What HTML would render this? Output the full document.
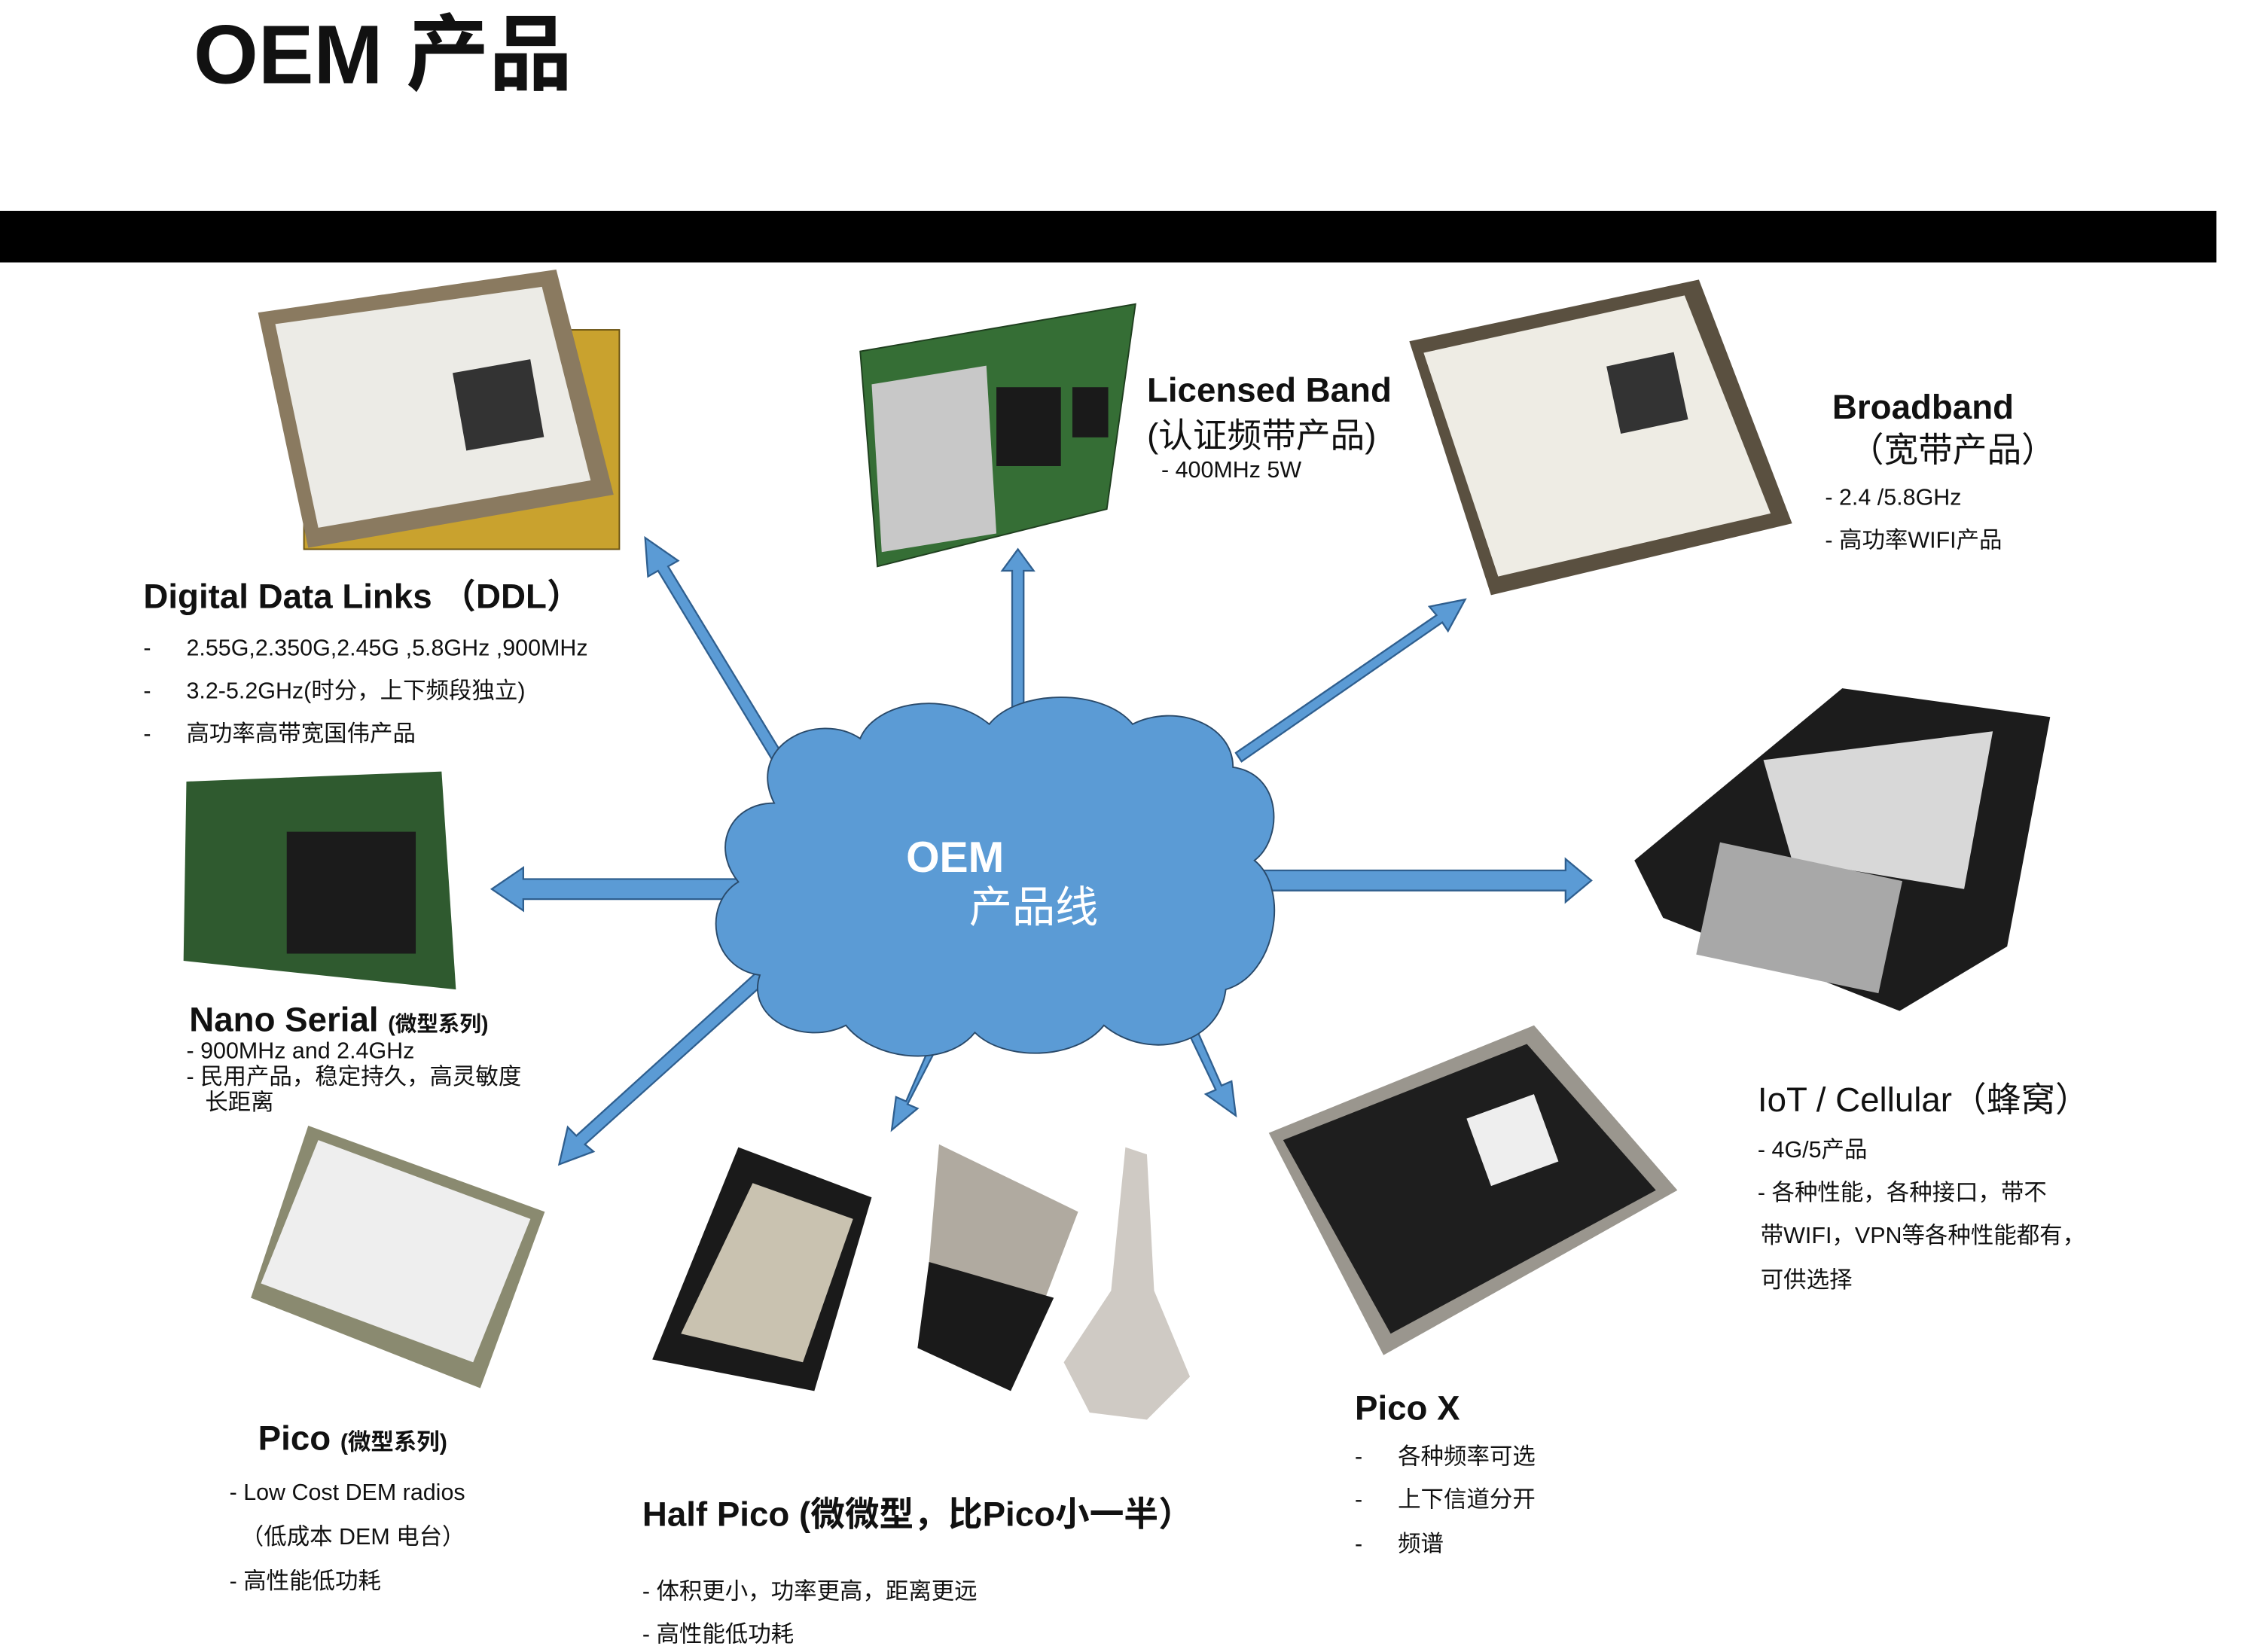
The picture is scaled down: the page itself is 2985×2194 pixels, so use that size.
<!DOCTYPE html>
<html><head><meta charset="utf-8">
<style>
html,body{margin:0;padding:0;background:#fff;}
svg{display:block;}
text{font-family:"Liberation Sans","Noto Sans CJK SC",sans-serif;fill:#111;}
.h{font-weight:bold;font-size:24px;}
.b{font-size:16px;}
</style></head><body>
<svg width="2985" height="2194" viewBox="0 0 1568 1152" preserveAspectRatio="none" xmlns="http://www.w3.org/2000/svg">
<rect width="1568" height="1152" fill="#fff"/>
<text x="135" y="58" style="font-weight:bold;font-size:58px">OEM 产品</text>
<rect x="0" y="147" width="1546" height="36" fill="#000"/>

<g fill="#5b9bd5" stroke="#2f5f8f" stroke-width="1.2">
<polygon points="556,543 466,395 473,391 450,375 452,402 459,398 549,547"/>
<polygon points="706,520 706,398 699,398 710,383 721,398 714,398 714,520"/>
<polygon points="862,525 1002,429 997,423 1022,418 1010,440 1006,434 866,531"/>
<polygon points="535,613 365,613 365,605 343,620 365,635 365,627 535,627"/>
<polygon points="868,607 1092,607 1092,599 1110,614 1092,629 1092,621 868,621"/>
<polygon points="530,676 402,792 396,786 390,812 414,803 408,798 536,683"/>
<polygon points="670,680 632,768 625,765 622,788 640,773 633,770 678,683"/>
<polygon points="803,666 848,760 841,763 862,778 859,754 852,757 810,662"/>
</g>

<g fill="#5b9bd5" stroke="#2a4a6a" stroke-width="1">
<path d="M540,560 C520,520 570,495 600,515 C610,490 660,480 690,505 C710,480 770,480 790,505 C820,490 860,505 860,535 C895,540 895,585 875,600 C900,620 890,680 855,690 C850,730 800,740 770,715 C750,740 700,740 680,720 C660,745 610,740 590,715 C560,730 520,710 530,680 C495,675 490,630 515,615 C495,590 510,560 540,560 Z"/>
</g>
<text x="632" y="608" style="font-weight:bold;font-size:30px;fill:#fff">OEM</text>
<text x="676" y="643" style="font-size:30px;fill:#fff">产品线</text>

<rect x="212" y="230" width="220" height="153" fill="#c9a22e" stroke="#6a5210"/>
<polygon points="180,218 388,188 428,345 215,382" fill="#8a7a60"/>
<polygon points="192,226 378,200 412,335 222,368" fill="#ecebe6"/>
<rect x="320" y="255" width="55" height="55" fill="#333" transform="rotate(-10 347 282)"/>
<polygon points="600,245 792,212 772,355 612,395" fill="#356e35" stroke="#1f3f1f"/>
<polygon points="608,268 688,255 695,372 615,385" fill="#c8c8c8"/>
<rect x="695" y="270" width="45" height="55" fill="#1a1a1a"/>
<rect x="748" y="270" width="25" height="35" fill="#1a1a1a"/>
<polygon points="983,238 1185,195 1250,365 1040,415" fill="#5a5040"/>
<polygon points="993,246 1175,206 1235,358 1045,402" fill="#eeece4"/>
<rect x="1125" y="250" width="48" height="48" fill="#333" transform="rotate(-12 1149 274)"/>
<polygon points="1140,600 1285,480 1430,500 1400,660 1325,705 1160,640" fill="#1c1c1c"/>
<polygon points="1230,530 1390,510 1370,620 1250,600" fill="#d8d8d8"/>
<rect x="1190" y="600" width="130" height="80" fill="#a8a8a8" transform="rotate(12 1255 640)"/>
<polygon points="130,545 308,538 318,690 128,670" fill="#2f5a2f"/>
<rect x="200" y="580" width="90" height="85" fill="#1b1b1b"/>
<polygon points="215,785 380,845 335,968 175,905" fill="#8a8a70"/>
<polygon points="222,795 370,850 330,950 182,895" fill="#eeeeee"/>
<polygon points="515,800 608,835 568,970 455,948" fill="#1a1a1a"/>
<polygon points="525,825 595,850 560,950 475,930" fill="#c9c2b0"/>
<polygon points="655,798 752,845 728,908 648,880" fill="#b0aaa0"/>
<polygon points="648,880 735,905 705,970 640,940" fill="#1a1a1a"/>
<polygon points="785,800 800,805 805,900 830,960 800,990 760,985 742,950 775,900" fill="#cfcac4"/>
<polygon points="885,790 1070,715 1170,830 965,945" fill="#9a968e"/>
<polygon points="895,795 1065,728 1155,830 970,930" fill="#1e1e1e"/>
<rect x="1030" y="770" width="50" height="50" fill="#eee" transform="rotate(-20 1055 795)"/>

<text x="800" y="280" class="h">Licensed Band</text>
<text x="800" y="312" class="h" style="font-weight:normal">(认证频带产品)</text>
<text x="810" y="333" class="b">- 400MHz 5W</text>

<text x="1278" y="292" class="h">Broadband</text>
<text x="1290" y="322" class="h" style="font-weight:normal">（宽带产品）</text>
<text x="1273" y="352" class="b">- 2.4 /5.8GHz</text>
<text x="1273" y="382" class="b">- 高功率WIFI产品</text>

<text x="100" y="424" class="h">Digital  Data Links  （DDL）</text>
<text x="100" y="457" class="b">-</text><text x="130" y="457" class="b">2.55G,2.350G,2.45G ,5.8GHz ,900MHz</text>
<text x="100" y="487" class="b">-</text><text x="130" y="487" class="b">3.2-5.2GHz(时分，上下频段独立)</text>
<text x="100" y="517" class="b">-</text><text x="130" y="517" class="b">高功率高带宽国伟产品</text>

<text x="132" y="719" class="h">Nano Serial <tspan style="font-size:15px">(微型系列)</tspan></text>
<text x="130" y="738" class="b">- 900MHz and 2.4GHz</text>
<text x="130" y="756" class="b">- 民用产品，稳定持久，高灵敏度</text>
<text x="143" y="774" class="b">长距离</text>

<text x="1226" y="775" class="h" style="font-weight:normal">IoT / Cellular（蜂窝）</text>
<text x="1226" y="807" class="b">- 4G/5产品</text>
<text x="1226" y="837" class="b">- 各种性能，各种接口，带不</text>
<text x="1228" y="867" class="b">带WIFI，VPN等各种性能都有，</text>
<text x="1228" y="898" class="b">可供选择</text>

<text x="180" y="1011" class="h">Pico <tspan style="font-size:16px">(微型系列)</tspan></text>
<text x="160" y="1046" class="b">- Low Cost DEM radios</text>
<text x="168" y="1077" class="b">（低成本 DEM 电台）</text>
<text x="160" y="1108" class="b">- 高性能低功耗</text>

<text x="448" y="1064" class="h" style="font-weight:bold">Half Pico (微微型，比Pico小一半）</text>
<text x="448" y="1115" class="b">- 体积更小，功率更高，距离更远</text>
<text x="448" y="1145" class="b">- 高性能低功耗</text>

<text x="945" y="990" class="h">Pico X</text>
<text x="945" y="1021" class="b">-</text><text x="975" y="1021" class="b">各种频率可选</text>
<text x="945" y="1051" class="b">-</text><text x="975" y="1051" class="b">上下信道分开</text>
<text x="945" y="1082" class="b">-</text><text x="975" y="1082" class="b">频谱</text>
</svg>
</body></html>
